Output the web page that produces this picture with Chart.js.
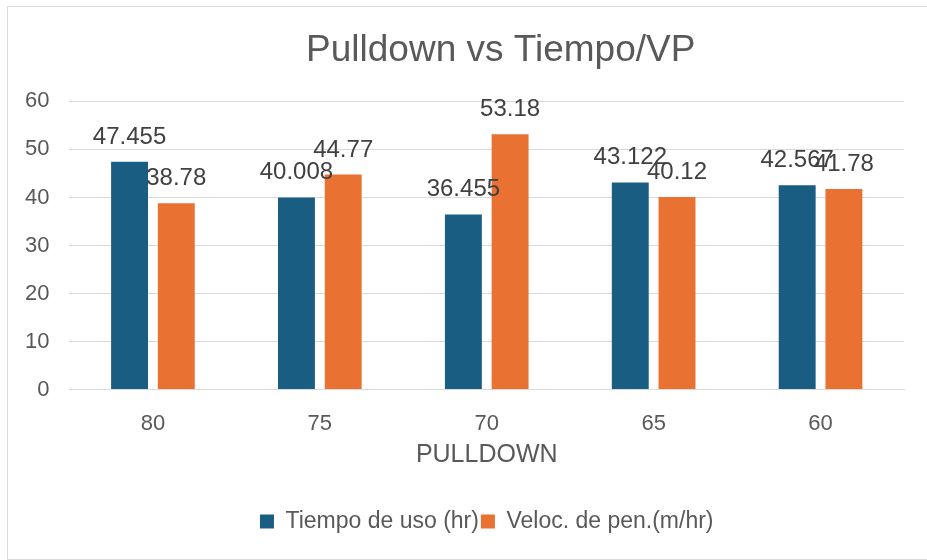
<!DOCTYPE html>
<html>
<head>
<meta charset="utf-8">
<script src="https://cdn.jsdelivr.net/npm/chart.js@4"></script>
<style>
  html, body { margin: 0; padding: 0; background: #fff; }
  #wrap { position: absolute; left: 7px; top: 6px; width: 925px; height: 552px; border: 1px solid #d9d9d9; border-right: none; }
  #box { position: absolute; left: 0; top: 0; width: 927px; height: 560px; }
</style>
</head>
<body>
<div id="wrap"></div>
<div id="box"><canvas id="chart"></canvas></div>
<script>
const categories = ['80', '75', '70', '65', '60']
const tiempoUso = [47.455, 40.008, 36.455, 43.122, 42.567]
const velocPen = [38.78, 44.77, 53.18, 40.12, 41.78]
const tiempoLabels = ['47.455', '40.008', '36.455', '43.122', '42.567']
const velocLabels = ['38.78', '44.77', '53.18', '40.12', '41.78']

const font = "'Liberation Sans', Arial, sans-serif"

// draws the value above each bar
const barLabels = {
    id: 'barLabels',
    afterDatasetsDraw(chart) {
        const ctx = chart.ctx
        ctx.save()
        ctx.font = `24px ${font}`
        ctx.fillStyle = '#404040'
        ctx.textAlign = 'center'
        ctx.textBaseline = 'alphabetic'
        chart.data.datasets.forEach(function (ds, i) {
            const texts = i === 0 ? tiempoLabels : velocLabels
            chart.getDatasetMeta(i).data.forEach(function (bar, j) {
                ctx.fillText(texts[j], bar.x, bar.y - 18)
            })
        })
        ctx.restore()
    }
}

// centre legend on the plot, title a bit right of it (as in the original)
const centerBlocks = {
    id: 'centerBlocks',
    afterLayout(chart) {
        const mid = (chart.chartArea.left + chart.chartArea.right) / 2
        const t = chart.titleBlock
        const ts = mid + 14 - (t.left + t.right) / 2
        t.left += ts
        t.right += ts
        const l = chart.legend
        const ls = mid - (l.left + l.right) / 2
        l.left += ls
        l.right += ls
    }
}

const data = {
    labels: categories,
    datasets: [{
        label: 'Tiempo de uso (hr)',
        backgroundColor: '#195e82',
        data: tiempoUso,
        categoryPercentage: 0.56,
        barPercentage: 0.79,
    }, {
        label: 'Veloc. de pen.(m/hr)',
        backgroundColor: '#e97132',
        data: velocPen,
        categoryPercentage: 0.56,
        barPercentage: 0.79,
    }]
}

const config = {
    type: 'bar',
    data: data,
    plugins: [barLabels, centerBlocks],
    options: {
        responsive: true,
        maintainAspectRatio: false,
        animation: false,
        layout: { padding: { left: 5, right: 23, top: 29, bottom: 17 } },
        plugins: {
            title: {
                display: true,
                text: 'Pulldown vs Tiempo/VP',
                color: '#595959',
                font: { family: font, size: 37, weight: 'normal' },
                padding: { top: 0, bottom: 28 },
            },
            legend: {
                position: 'bottom',
                labels: {
                    color: '#595959',
                    font: { family: font, size: 23 },
                    boxWidth: 14,
                    boxHeight: 14,
                    padding: 2,
                },
            },
            tooltip: { enabled: false },
        },
        scales: {
            x: {
                grid: { display: false, drawTicks: false },
                border: { color: '#d9d9d9' },
                ticks: { color: '#595959', font: { family: font, size: 22 }, padding: 21 },
                title: {
                    display: true,
                    text: 'PULLDOWN',
                    color: '#595959',
                    font: { family: font, size: 25 },
                    padding: { top: -18, bottom: 38 },
                },
            },
            y: {
                min: 0,
                max: 60,
                ticks: { stepSize: 10, color: '#595959', font: { family: font, size: 22 }, padding: 20 },
                grid: { color: '#d9d9d9', drawTicks: false },
                border: { display: false },
            },
        },
    },
}

new Chart(document.querySelector('#chart'), config)
</script>
</body>
</html>
